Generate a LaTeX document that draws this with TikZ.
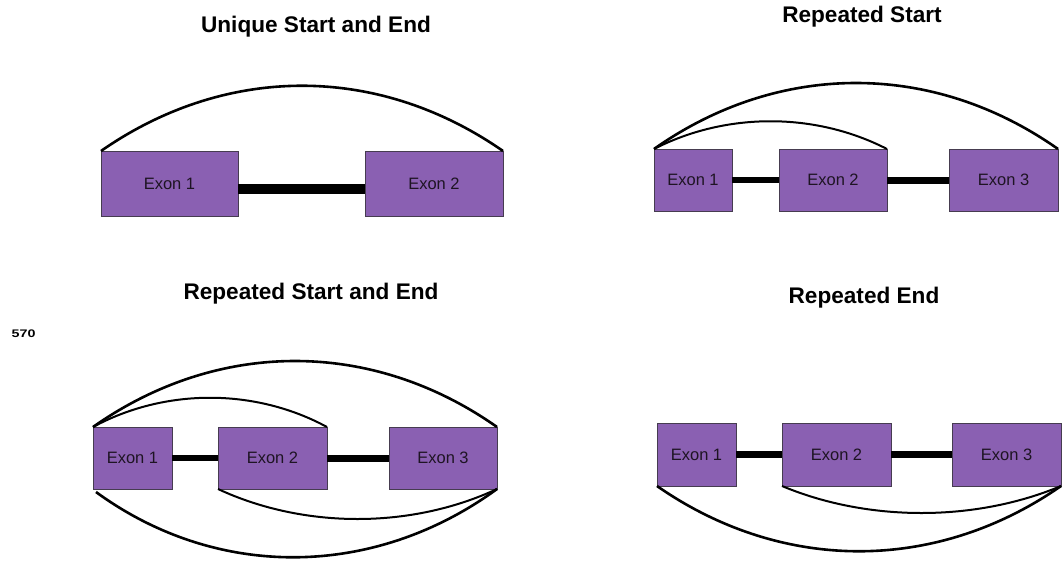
\documentclass[tikz,border=0pt]{standalone}
\usepackage{fontspec}
\setmainfont{Liberation Sans}
\definecolor{exonfill}{RGB}{138,96,178}
\definecolor{exonline}{RGB}{70,60,80}
\definecolor{labeltext}{RGB}{30,20,35}
\tikzset{
  exon/.style={rectangle, draw=exonline, line width=0.7pt, fill=exonfill,
    outer sep=0pt, inner sep=0pt, minimum height=62pt,
    text=labeltext, font=\fontsize{16.5}{19}\selectfont},
  title/.style={anchor=base, inner sep=0pt, font=\fontsize{22.6}{26}\selectfont\bfseries},
  intron/.style={draw=black, line width=6.5pt},
  junction/.style={draw=black, line width=2.6pt},
  thinjunction/.style={draw=black, line width=2pt},
}
\begin{document}
\begin{tikzpicture}[x=1pt,y=-1pt]
\useasboundingbox (0,0) rectangle (1063,560);

% ---- Unique Start and End ----
\node[title] (t1) at (316,32) {Unique Start and End};
\node[exon, minimum width=137pt, minimum height=65pt] (a1) at (169.5,183.5) {Exon 1};
\node[exon, minimum width=138pt, minimum height=65pt] (a2) at (434,183.5) {Exon 2};
\draw[intron, line width=10pt] ([yshift=-5.5pt]a1.east) -- ([yshift=-5.5pt]a2.west);
\draw[junction] (a1.north west) .. controls +(125,-87) and +(-125,-87) .. (a2.north east);

% ---- Repeated Start ----
\node[title] (t2) at (862,22) {Repeated Start};
\node[exon, minimum width=78pt] (b1) at (693,180) {Exon 1};
\node[exon, minimum width=108pt] (b2) at (833,180) {Exon 2};
\node[exon, minimum width=109pt] (b3) at (1003.5,180) {Exon 3};
\draw[intron, line width=6pt] (b1.east) -- (b2.west);
\draw[intron, line width=7pt] (b2.east) -- (b3.west);
\draw[thinjunction] (b1.north west) .. controls +(72,-37) and +(-72,-37) .. (b2.north east);
\draw[junction] (b1.north west) .. controls +(125,-88) and +(-125,-88) .. (b3.north east);

% ---- Repeated Start and End ----
\node[title] (t3) at (311,299) {Repeated Start and End};
\node[anchor=base west, inner sep=0pt, font=\fontsize{11}{12}\selectfont\bfseries]
  (pg) at (11.5,337.5) {\scalebox{1.3}[1]{570}};
\node[exon, minimum width=79pt] (c1) at (132.5,458) {Exon 1};
\node[exon, minimum width=109pt] (c2) at (272.5,458) {Exon 2};
\node[exon, minimum width=108pt] (c3) at (443,458) {Exon 3};
\draw[intron] (c1.east) -- (c2.west);
\draw[intron, line width=7pt] (c2.east) -- (c3.west);
\draw[thinjunction] (c1.north west) .. controls +(72,-39) and +(-72,-39) .. (c2.north east);
\draw[junction] (c1.north west) .. controls +(125,-88) and +(-125,-88) .. (c3.north east);
\draw[thinjunction] (c2.south west) .. controls +(86,40) and +(-86,40) .. (c3.south east);
\draw[junction] ([xshift=3pt,yshift=-3pt]c1.south west) .. controls +(122,89) and +(-122,89) .. (c3.south east);

% ---- Repeated End ----
\node[title] (t4) at (864,303) {Repeated End};
\node[exon, minimum width=79pt, minimum height=63pt] (d1) at (696.5,454.5) {Exon 1};
\node[exon, minimum width=109pt, minimum height=63pt] (d2) at (836.5,454.5) {Exon 2};
\node[exon, minimum width=109pt, minimum height=63pt] (d3) at (1006.5,454.5) {Exon 3};
\draw[intron] (d1.east) -- (d2.west);
\draw[intron, line width=7pt] (d2.east) -- (d3.west);
\draw[thinjunction] (d2.south west) .. controls +(86,36) and +(-86,36) .. (d3.south east);
\draw[junction] (d1.south west) .. controls +(125,87) and +(-125,87) .. (d3.south east);
\end{tikzpicture}
\end{document}
